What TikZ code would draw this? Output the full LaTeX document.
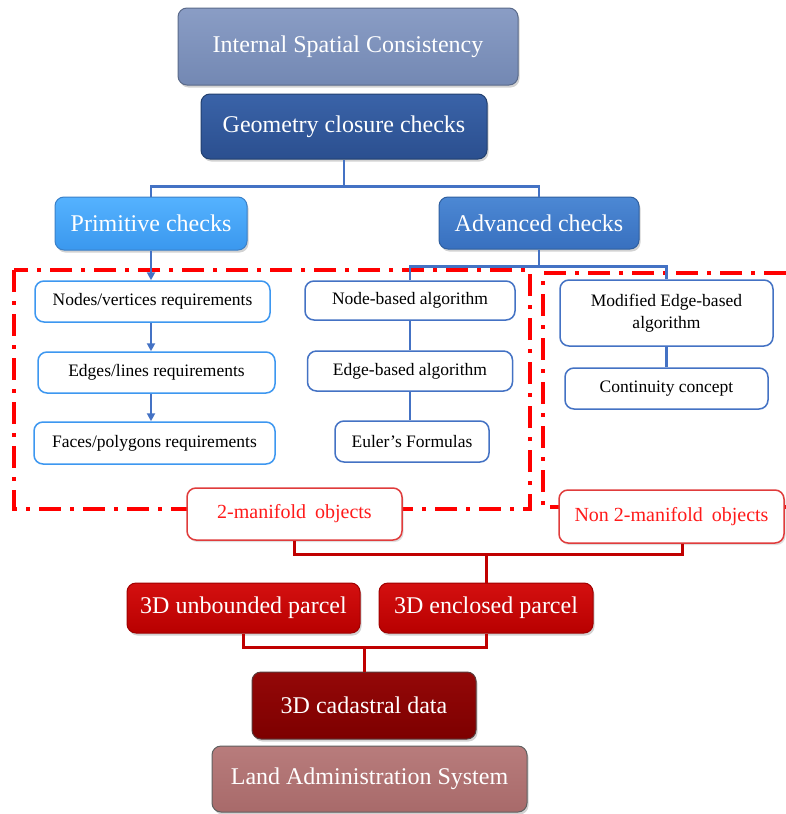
\documentclass[tikz,border=0pt]{standalone}
\usepackage{fontspec}
\setmainfont{Liberation Serif}
\usetikzlibrary{shadows,arrows.meta}
\definecolor{iscT}{HTML}{8A9DC5}\definecolor{iscB}{HTML}{7388B3}\definecolor{iscD}{HTML}{5A6A8A}
\definecolor{geoT}{HTML}{3A63A8}\definecolor{geoB}{HTML}{2B4F8F}\definecolor{geoD}{HTML}{22406F}
\definecolor{priT}{HTML}{55B2FF}\definecolor{priB}{HTML}{3A98EE}\definecolor{priD}{HTML}{3A80C8}
\definecolor{advT}{HTML}{4C88D4}\definecolor{advB}{HTML}{3870BF}\definecolor{advD}{HTML}{2F5F9F}
\definecolor{bline}{HTML}{4472C4}\definecolor{bbright}{HTML}{3D97F0}
\definecolor{rtext}{HTML}{FF1A1A}\definecolor{rbord}{HTML}{E03C3C}
\definecolor{parT}{HTML}{D41010}\definecolor{parB}{HTML}{B80000}\definecolor{parD}{HTML}{A00000}
\definecolor{cadT}{HTML}{940808}\definecolor{cadB}{HTML}{7D0000}\definecolor{cadD}{HTML}{5A3A3A}
\definecolor{lanT}{HTML}{B87C7C}\definecolor{lanB}{HTML}{A86A6A}\definecolor{lanD}{HTML}{606060}
\definecolor{rline}{HTML}{C00000}
\begin{document}
\begin{tikzpicture}[x=1pt,y=-1pt,
  base/.style={rounded corners=9pt, inner sep=0pt, align=center, line width=1pt},
  bigbox/.style={base, text=white, font=\fontsize{24}{28}\selectfont,
     drop shadow={opacity=0.35, shadow xshift=1.5pt, shadow yshift=-2.5pt}},
  smallbox/.style={base, draw=bline, line width=1.5pt, fill=white, font=\fontsize{17.5}{22}\selectfont},
  reqbox/.style={smallbox, draw=bbright},
  redbox/.style={base, draw=rbord, line width=1.5pt, fill=white, text=rtext, font=\fontsize{20}{24}\selectfont,
     drop shadow={opacity=0.25, shadow xshift=1.5pt, shadow yshift=-2pt}},
  bl/.style={draw=bline, line width=2.8pt},
  barrow/.style={draw=bline, line width=2pt, -{Triangle[length=8pt,width=8pt]}},
  rl/.style={draw=rline, line width=3pt},
  reddash/.style={draw=red, line width=3.5pt, dash pattern=on 22pt off 9pt on 4pt off 9pt}
]
\useasboundingbox (0,0) rectangle (786,814);
\fill[white] (0,0) rectangle (786,814);

% dash-dot frames
\draw[reddash] (14,270) rectangle (530,509);
\draw[reddash] (786,273) -- (543,273) -- (543,507) -- (786,507);

% top boxes
\node[bigbox, draw=iscD, top color=iscT, bottom color=iscB, minimum width=340pt, minimum height=77pt] (isc) at (348,46.5) {Internal Spatial Consistency};
\node[bigbox, draw=geoD, top color=geoT, bottom color=geoB, minimum width=286pt, minimum height=65pt] (geo) at (344,126.5) {Geometry closure checks};
\node[bigbox, draw=priD, top color=priT, bottom color=priB, minimum width=192pt, minimum height=53pt] (prim) at (151,223.5) {Primitive checks};
\node[bigbox, draw=advD, top color=advT, bottom color=advB, minimum width=200pt, minimum height=52pt] (adv) at (539,223) {Advanced checks};

% requirement boxes
\node[reqbox, minimum width=235pt, minimum height=41pt] (nv) at (152.5,301.5) {Nodes/vertices requirements};
\node[reqbox, minimum width=237pt, minimum height=41pt] (el) at (156.5,372.5) {Edges/lines requirements};
\node[reqbox, minimum width=241pt, minimum height=42pt] (fp) at (154.5,443) {Faces/polygons requirements};

% algorithm boxes
\node[smallbox, minimum width=210pt, minimum height=39pt] (nb) at (410,300.5) {Node-based algorithm};
\node[smallbox, minimum width=205pt, minimum height=40pt] (eb) at (410,371) {Edge-based algorithm};
\node[smallbox, minimum width=154pt, minimum height=41pt] (eu) at (412,441.5) {Euler’s Formulas};
\node[smallbox, minimum width=213pt, minimum height=66pt] (mod) at (666.5,313) {Modified Edge-based\\algorithm};
\node[smallbox, minimum width=203pt, minimum height=41pt] (con) at (666.5,388.5) {Continuity concept};

% blue connectors
\path (geo.south) ++(0,27) coordinate (b1);
\draw[bl] (geo.south) -- (b1);
\draw[bl] (prim.north) |- (b1) -| (adv.north);
\path (adv.south) ++(0,17) coordinate (b2);
\draw[bl] (adv.south) -- (b2);
\draw[bl] (nb.north) |- (b2) -| (mod.north);
\draw[barrow] (prim.south) -- (prim.south |- nv.north);
\draw[barrow] (nv.south -| prim.south) -- (prim.south |- el.north);
\draw[barrow] (el.south -| prim.south) -- (prim.south |- fp.north);
\draw[bl] (nb.south) -- (nb.south |- eb.north);
\draw[bl] (eb.south) -- (eb.south |- eu.north);
\draw[bl] (mod.south) -- (mod.south |- con.north);

% manifold boxes
\node[redbox, minimum width=215pt, minimum height=52pt] (mf) at (294.5,514) {2-manifold\hspace{0.45em}objects};
\node[redbox, minimum width=225pt, minimum height=53pt] (nmf) at (671.5,516.5) {Non 2-manifold\hspace{0.45em}objects};

% parcels
\node[bigbox, draw=parD, top color=parT, bottom color=parB, minimum width=233pt, minimum height=50pt] (unb) at (243.5,608) {3D unbounded parcel};
\node[bigbox, draw=parD, top color=parT, bottom color=parB, minimum width=214pt, minimum height=50pt] (enc) at (486,608) {3D enclosed parcel};
\node[bigbox, draw=cadD, top color=cadT, bottom color=cadB, minimum width=224pt, minimum height=67pt] (cad) at (364,705.5) {3D cadastral data};
\node[bigbox, draw=lanD, top color=lanT, bottom color=lanB, minimum width=315pt, minimum height=66pt] (lan) at (369.5,779) {Land Administration System};

% red connectors
\path (mf.south) ++(0,14) coordinate (r1);
\coordinate (nl) at ([xshift=11pt]nmf.south);
\draw[rl] (mf.south) -- (r1) -| (nl);
\draw[rl] (enc.north) -- (enc.north |- r1);
\path (unb.south) ++(0,14) coordinate (r2);
\draw[rl] (unb.south) -- (r2) -| (enc.south);
\draw[rl] (cad.north) -- (cad.north |- r2);
\end{tikzpicture}
\end{document}
